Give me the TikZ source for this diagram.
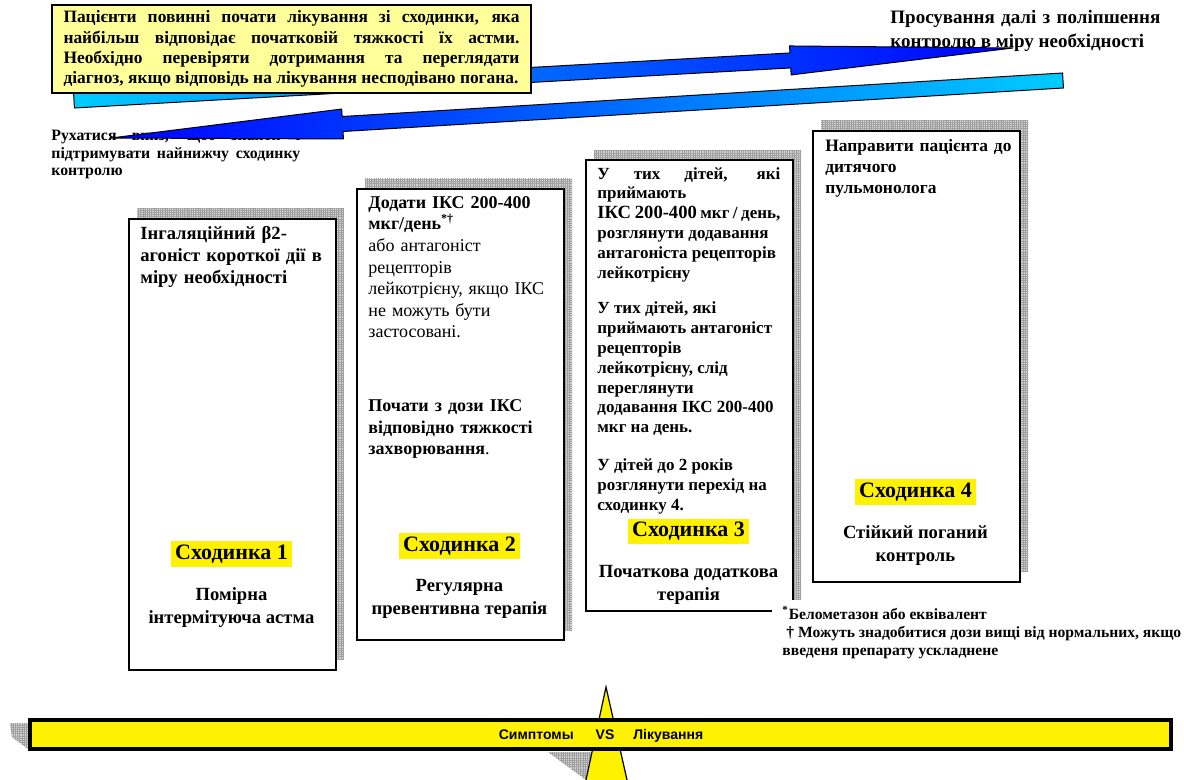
\documentclass[tikz,border=0pt]{standalone}
\usepackage{fontspec}
\setmainfont{Liberation Serif}
\setsansfont{Liberation Sans}
\usetikzlibrary{calc,patterns.meta}

\definecolor{notefill}{RGB}{255,255,153}
\definecolor{arrowcyan}{RGB}{0,204,255}
\definecolor{arrowblue}{RGB}{0,0,255}

\tikzset{
    stepbox/.style={draw, fill=white, line width=0.8pt, minimum width=103.5pt, minimum height=225.5pt, inner sep=0pt},
    hatchshadow/.style={pattern={Hatch[distance=1.1pt, line width=0.35pt]}, pattern color=gray!75, preaction={fill=gray!35}},
    steplabel/.style={fill=yellow, inner xsep=2pt, inner ysep=1.8pt, font=\fontsize{11}{12}\selectfont\bfseries},
    stepsub/.style={anchor=north, align=center, inner sep=0pt, font=\fontsize{9.3}{11.5}\selectfont\bfseries},
    bodytext/.style={anchor=north west, inner sep=0pt, align=left}
}

\begin{document}
\begin{tikzpicture}[x=0.5pt, y=-0.5pt]
        \useasboundingbox (0,0) rectangle (1184,780);

        % block arrow: style, tail, tip, shaft half width, head half width, head length
        \def\blockarrow#1#2#3#4#5#6{
            \coordinate (#3-base) at ($(#3)!#6!(#2)$);
            \draw[#1] ($(#2)!#4!90:(#3)$) -- ($(#3-base)!#4!90:(#3)$) -- ($(#3-base)!#5!90:(#3)$)
                -- (#3) -- ($(#3-base)!#5!-90:(#3)$) -- ($(#3-base)!#4!-90:(#3)$) -- ($(#2)!#4!-90:(#3)$) -- cycle;
        }

        \node[anchor=north west, inner sep=0pt, text width=135pt, align=justify, font=\fontsize{9.5}{12}\selectfont\bfseries] (upnote) at (890,10)
            {Просування далі з поліпшення\linebreak контролю в міру необхідності};
        \node[anchor=north west, inner sep=0pt, text width=124.5pt, align=justify, font=\fontsize{7.9}{8.8}\selectfont\bfseries] (downnote) at (51,129)
            {Рухатися вниз, щоб знайти і\linebreak підтримувати найнижчу сходинку\linebreak контролю};

        \coordinate (uptail) at (74,100.5);
        \coordinate (uptip) at (1013,48);
        \coordinate (downtail) at (1063,80.5);
        \coordinate (downtip) at (111,138);

        \blockarrow{draw=black, line width=0.5pt, left color=arrowcyan, right color=arrowblue}{uptail}{uptip}{3.75pt}{7.25pt}{111.5pt}
        \blockarrow{draw=black, line width=0.5pt, left color=arrowblue, right color=arrowcyan}{downtail}{downtip}{3.75pt}{7.5pt}{116pt}

        \node[draw, fill=notefill, line width=1pt, anchor=north west, minimum width=239.5pt, minimum height=44pt, text width=228pt,
            align=justify, inner sep=0pt, font=\fontsize{8.7}{10.15}\selectfont\bfseries] (startnote) at (51,4)
            {\parfillskip=0pt Пацієнти повинні почати лікування зі сходинки, яка\linebreak найбільш відповідає початковій тяжкості їх астми.\linebreak
             Необхідно перевіряти дотримання та переглядати\linebreak діагноз, якщо відповідь на лікування несподівано погана.};

        \foreach \n/\bx/\by/\ly/\sub in {
            1/128/218/554/{Помірна\\інтермітуюча астма},
            2/356/188/546/{Регулярна\\превентивна терапія},
            3/585/159/531.5/{Початкова додаткова\\терапія},
            4/812/130/492/{Стійкий поганий\\контроль}}{
            \fill[hatchshadow] (\bx+9,\by-9) rectangle ++(207,451);
            \node[stepbox, anchor=north west] (step\n) at (\bx,\by) {};
            \node[steplabel] (label\n) at (\bx+103.5,\ly) {Сходинка \n};
            \node[stepsub] (sub\n) at (\bx+103.5,\ly+33) {\sub};
        };

        \node[bodytext, text width=92pt, font=\fontsize{9.3}{11}\selectfont\bfseries] (body1) at (140,226)
            {Інгаляційний β2-\\агоніст короткої дії в\\міру необхідності};
        \node[bodytext, text width=94pt, font=\fontsize{9}{10.8}\selectfont] (body2) at (368,196)
            {{\bfseries Додати ІКС 200-400\\мкг/день\textsuperscript{*†}}\\або антагоніст\\рецепторів\\лейкотрієну, якщо ІКС\\не можуть бути\\застосовані.\\[26pt]
             {\bfseries Почати з дози ІКС\\відповідно тяжкості\\захворювання}.};
        \node[bodytext, text width=91.5pt, align=justify, font=\fontsize{8.5}{9.9}\selectfont\bfseries] (body3) at (597,167)
            {У тих дітей, які\linebreak приймають\\{\fontsize{9.3}{9.9}\selectfont ІКС 200-400} мкг / день,\\розглянути додавання\\антагоніста рецепторів\\лейкотрієну\\[8pt]
             У тих дітей, які\\приймають антагоніст\\рецепторів\\лейкотрієну, слід\\переглянути\\додавання ІКС 200-400\\мкг на день.\\[9pt]
             У дітей до 2 років\\розглянути перехід на\\сходинку 4.};
        \node[bodytext, text width=95pt, font=\fontsize{8.7}{10.5}\selectfont\bfseries] (body4) at (825,139)
            {Направити пацієнта до\\дитячого\\пульмонолога};

        \node[anchor=north west, fill=white, inner xsep=5pt, inner ysep=3pt, align=left, font=\fontsize{7.8}{9}\selectfont\bfseries] (footnote) at (772,600)
            {\textsuperscript{*}Белометазон або еквівалент\\\hspace*{2pt}† Можуть знадобитися дози вищі від нормальних, якщо\\введеня препарату ускладнене};

        \fill[hatchshadow] (10,723) -- (28,723) -- (28,749) -- (12,737) -- cycle;
        \fill[hatchshadow] (548,752) -- (592,752) -- (586,780) -- cycle;
        \fill[yellow] (586,780) -- (606,687) -- (627,780) -- cycle;
        \draw[line width=0.6pt] (586,780) -- (606,687) -- (627,780);
        \node[draw, line width=2pt, fill=yellow, minimum width=570.5pt, minimum height=14.5pt, inner sep=0pt] (balance) at (600.5,734.5) {};
        \node[inner sep=0pt, font=\sffamily\bfseries\fontsize{7}{8}\selectfont] (balancetext) at (601,736)
            {Симптомы\hspace{11pt}VS\hspace{9.5pt}Лікування};

    \end{tikzpicture}
\end{document}
